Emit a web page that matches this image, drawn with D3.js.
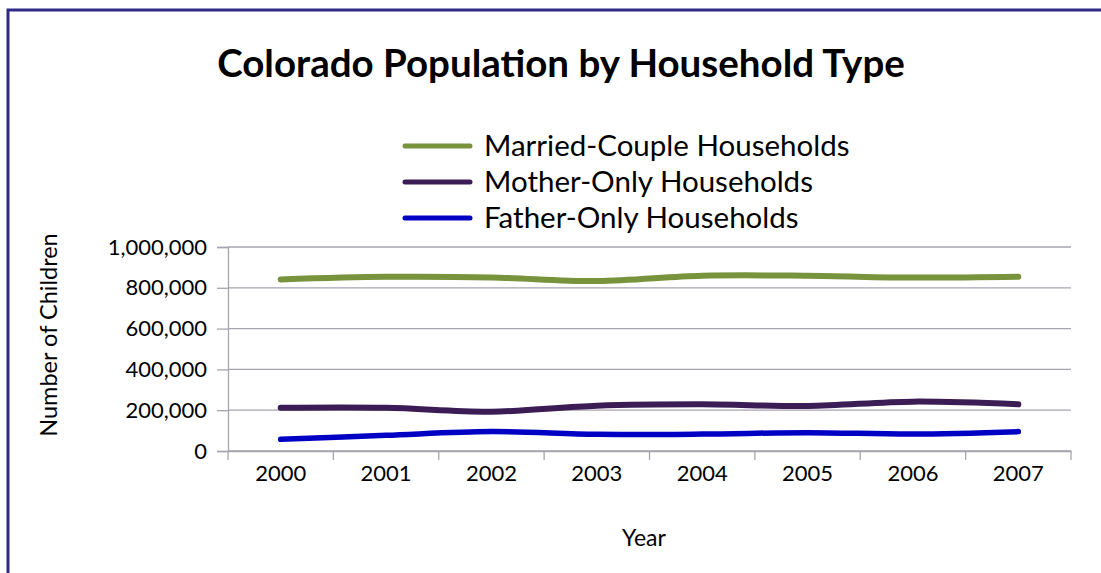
<!DOCTYPE html>
<html><head><meta charset="utf-8">
<script src="https://cdn.jsdelivr.net/npm/d3@7"></script>
<style>body{margin:0;background:#fff}</style>
</head><body>
<svg id="c" width="1101" height="573"></svg>
<script>
const years = ["2000", "2001", "2002", "2003", "2004", "2005", "2006", "2007"];
const seriesNames = ["Married-Couple Households", "Mother-Only Households", "Father-Only Households"];
const marriedCouple = [841000, 854000, 851000, 833000, 859000, 859000, 850000, 854000];
const motherOnly = [212000, 212000, 193000, 222000, 229000, 221000, 242000, 229000];
const fatherOnly = [57000, 77000, 95000, 82000, 83000, 90000, 83000, 95000];
const yTicks = [0, 200000, 400000, 600000, 800000, 1000000];
const colors = ["#77933C", "#3B1C55", "#0000C4"];

const FONT = "Lato, 'Open Sans', sans-serif";
const svg = d3.select("#c").style("font-family", FONT);

const L = 228, R = 1071, T = 247, B = 451;
const x = d3.scaleBand().domain(years).range([L, R]);
const y = d3.scaleLinear().domain([0, 1000000]).range([B, T]);
const gridColor = "#A7A3AF";

// frame border
svg.append("path").attr("d", "M8,573V10H1101").attr("fill", "none")
  .attr("stroke", "#2F2B85").attr("stroke-width", 3);

// title
svg.append("text").attr("x", 561).attr("y", 77).attr("text-anchor", "middle")
  .attr("font-size", 38.5).attr("font-weight", "bold").attr("fill", "#000")
  .text("Colorado Population by Household Type");

// gridlines
svg.append("g").selectAll("line").data(yTicks).join("line")
  .attr("x1", L).attr("x2", R).attr("y1", d => y(d)).attr("y2", d => y(d))
  .attr("stroke", gridColor).attr("stroke-width", 1.3);

// y axis
const yAxis = svg.append("g").attr("transform", `translate(${L},0)`)
  .call(d3.axisLeft(y).tickValues(yTicks).tickSize(11).tickPadding(10).tickFormat(d3.format(",")));
yAxis.select(".domain").attr("stroke", gridColor).attr("stroke-width", 1.3);
yAxis.selectAll(".tick line").attr("stroke", gridColor).attr("stroke-width", 1.3);
yAxis.selectAll(".tick text").attr("font-size", 22).attr("font-family", FONT).attr("fill", "#000");

// x axis
const xAxis = svg.append("g").attr("transform", `translate(0,${B})`)
  .call(d3.axisBottom(x).tickSize(0).tickPadding(14));
xAxis.select(".domain").attr("stroke", gridColor).attr("stroke-width", 1.3);
xAxis.selectAll(".tick text").attr("font-size", 22).attr("font-family", FONT).attr("fill", "#000");
// band boundary ticks
const bounds = years.map(d => x(d)).concat([R]);
svg.append("g").selectAll("line").data(bounds).join("line")
  .attr("x1", d => d).attr("x2", d => d).attr("y1", B).attr("y2", B + 9)
  .attr("stroke", gridColor).attr("stroke-width", 1.3);

// axis titles
svg.append("text").attr("transform", `translate(57,335) rotate(-90)`)
  .attr("text-anchor", "middle").attr("font-size", 23.5).attr("fill", "#000")
  .text("Number of Children");
svg.append("text").attr("x", 644).attr("y", 546).attr("text-anchor", "middle")
  .attr("font-size", 23).attr("fill", "#000").text("Year");

// lines
const allSeries = [marriedCouple, motherOnly, fatherOnly];
const line = d3.line().x((d, i) => x(years[i]) + x.bandwidth() / 2).y(d => y(d))
  .curve(d3.curveCatmullRom.alpha(0.5));
svg.append("g").selectAll("path").data(allSeries).join("path")
  .attr("d", d => line(d)).attr("fill", "none")
  .attr("stroke", (d, i) => colors[i]).attr("stroke-width", (d, i) => i === 2 ? 5.5 : 6)
  .attr("stroke-linecap", "round").attr("stroke-linejoin", "round");

// legend
const legY = [146, 182, 218];
const leg = svg.append("g").selectAll("g").data(seriesNames).join("g")
  .attr("transform", (d, i) => `translate(405,${legY[i]})`);
leg.append("line").attr("x1", 0).attr("x2", 65).attr("y1", 0).attr("y2", 0)
  .attr("stroke", (d, i) => colors[i]).attr("stroke-width", 5).attr("stroke-linecap", "round");
leg.append("text").attr("x", 79).attr("y", 0).attr("dy", "0.35em")
  .attr("font-size", 29.5).attr("fill", "#000").text(d => d);
</script>
</body></html>
